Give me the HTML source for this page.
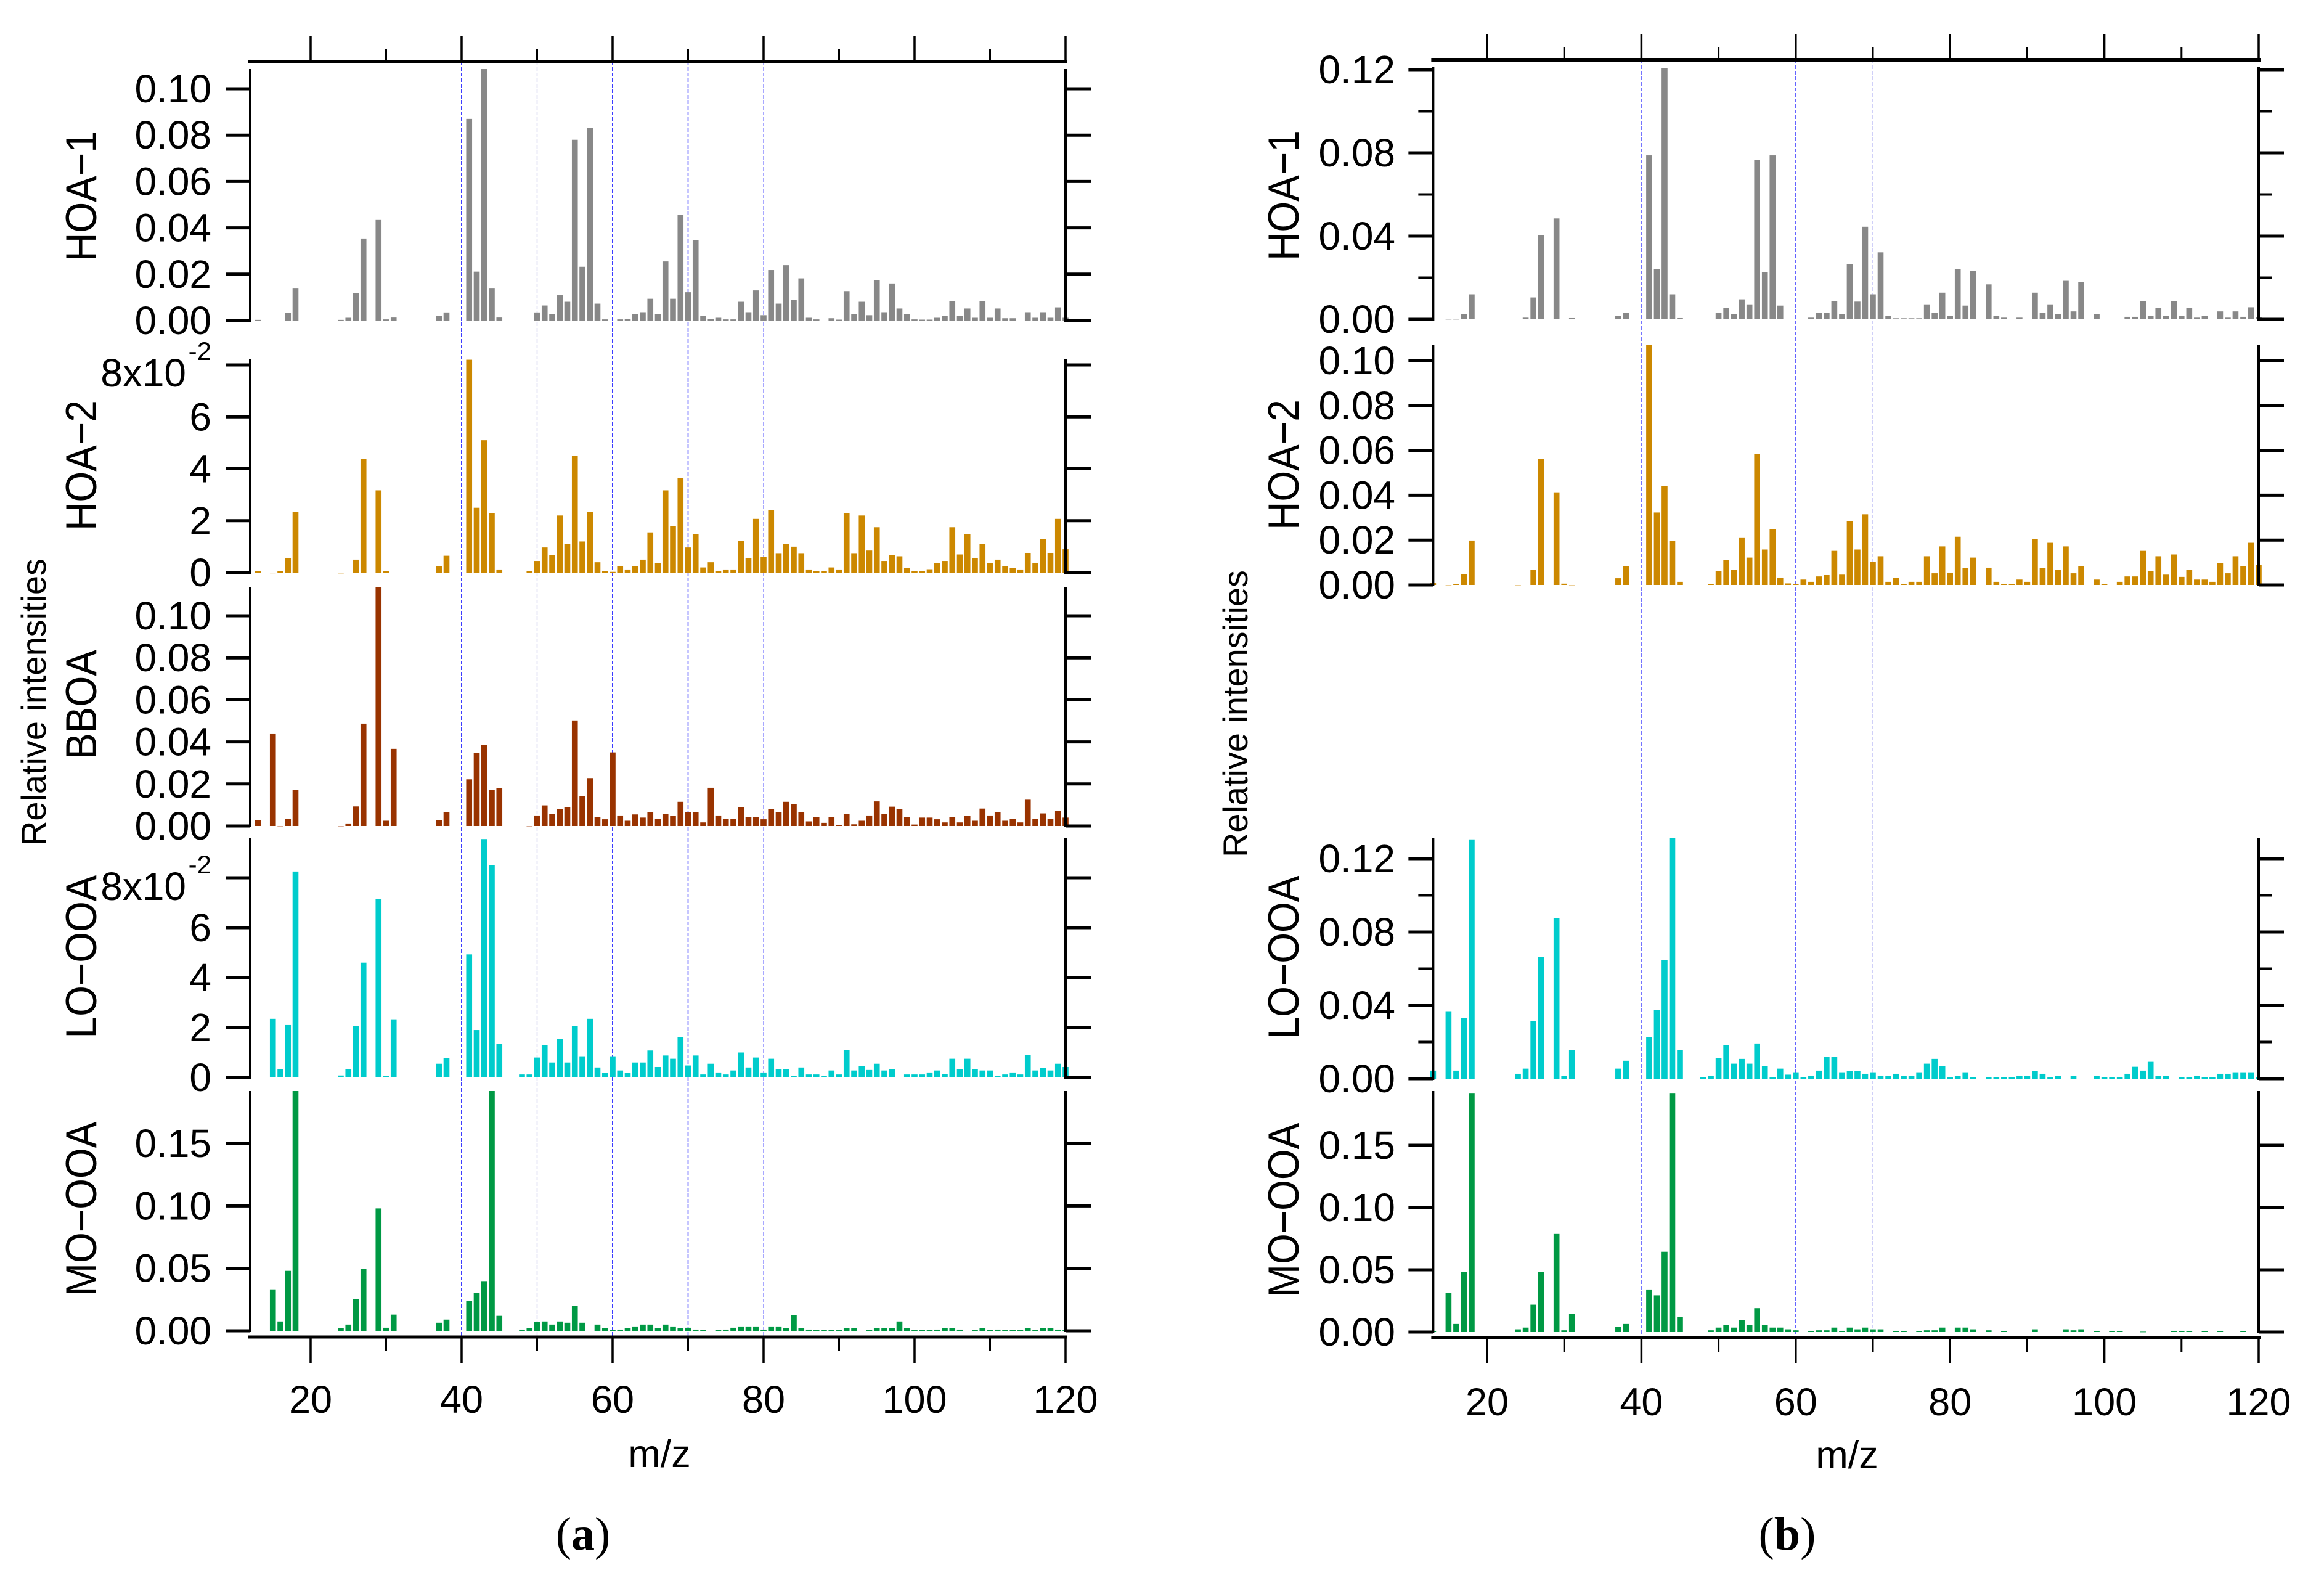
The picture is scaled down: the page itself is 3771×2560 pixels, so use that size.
<!DOCTYPE html>
<html lang="en">
<head>
<meta charset="utf-8">
<title>Mass spectra of PMF factors</title>
<style>
html,body{margin:0;padding:0;background:#fff;}
svg{display:block;font-family:"Liberation Sans",Arial,sans-serif;}
</style>
</head>
<body>
<svg id="chart" xmlns="http://www.w3.org/2000/svg" width="3771" height="2560" viewBox="0 0 3771 2560">
  <rect x="0" y="0" width="3771" height="2560" fill="#fff"/>
  <g id="plots"></g>
  <g fill="#000">
    <text transform="translate(74,1139) rotate(-90)" font-size="56" text-anchor="middle" textLength="466" lengthAdjust="spacingAndGlyphs">Relative intensities</text>
    <text transform="translate(2024,1158) rotate(-90)" font-size="56" text-anchor="middle" textLength="466" lengthAdjust="spacingAndGlyphs">Relative intensities</text>

    <text transform="translate(156,318) rotate(-90) scale(1,1.1)" font-size="64" text-anchor="middle">HOA−1</text>
    <text transform="translate(156,755) rotate(-90) scale(1,1.1)" font-size="64" text-anchor="middle">HOA−2</text>
    <text transform="translate(156,1143) rotate(-90) scale(1,1.1)" font-size="64" text-anchor="middle">BBOA</text>
    <text transform="translate(156,1552) rotate(-90) scale(1,1.1)" font-size="64" text-anchor="middle">LO−OOA</text>
    <text transform="translate(156,1961) rotate(-90) scale(1,1.1)" font-size="64" text-anchor="middle">MO−OOA</text>

    <text transform="translate(2107,317) rotate(-90) scale(1,1.1)" font-size="64" text-anchor="middle">HOA−1</text>
    <text transform="translate(2107,754) rotate(-90) scale(1,1.1)" font-size="64" text-anchor="middle">HOA−2</text>
    <text transform="translate(2107,1553) rotate(-90) scale(1,1.1)" font-size="64" text-anchor="middle">LO−OOA</text>
    <text transform="translate(2107,1963) rotate(-90) scale(1,1.1)" font-size="64" text-anchor="middle">MO−OOA</text>

    <text x="302" y="627" font-size="64" text-anchor="end">8x10</text>
    <text x="343" y="584" font-size="42" text-anchor="end">-2</text>
    <text x="302" y="1460" font-size="64" text-anchor="end">8x10</text>
    <text x="343" y="1417" font-size="42" text-anchor="end">-2</text>

    <text x="1070" y="2380" font-size="63" text-anchor="middle">m/z</text>
    <text x="2997" y="2382" font-size="63" text-anchor="middle">m/z</text>

    <text x="946" y="2514" font-size="76" text-anchor="middle" style="font-family:'Liberation Serif',serif">(<tspan font-weight="bold">a</tspan>)</text>
    <text x="2900" y="2514" font-size="76" text-anchor="middle" style="font-family:'Liberation Serif',serif">(<tspan font-weight="bold">b</tspan>)</text>
  </g>
</svg>
<script>
// m/z of the first value in every series; each series lists m/z 13..120
const firstMz = 13;

const hoa1A = [.0003,0,0,0,.0033,.0138,0,
0,0,0,0,.0003,.0012,.0117,.0354,0,.0434,
.0005,.0013,0,0,0,0,0,.002,.0035,0,
0,.087,.0211,.1085,.0138,.0013,0,0,0,0,
.0035,.0065,.0028,.0109,.0081,.078,.0232,.0832,.0073,.0005,
0,.0005,.0006,.0029,.0036,.0094,.0029,.0255,.0094,.0455,
.0122,.0346,.002,.0008,.0012,.0005,.0005,.0081,.0036,.013,
.0023,.0218,.0073,.0239,.0088,.0182,.0012,.0005,0,.001,
.0004,.0127,.0029,.0081,.0023,.0174,.0036,.016,.0052,.0029,
.0005,.0004,.0004,.0012,.002,.0085,.002,.0052,.0012,.0085,
.0012,.0052,.001,.001,0,.0036,.0012,.0036,.0012,.0057,.0012];

const hoa2A = [.05,0,-.03,.05,.57,2.35,0,
0,0,0,0,-.04,0,.5,4.38,0,3.17,
.05,0,0,0,0,0,0,.25,.65,0,
0,8.2,2.5,5.1,2.3,.12,0,0,0,.05,
.45,.97,.68,2.2,1.1,4.5,1.2,2.33,.4,.05,
.03,.25,.12,.26,.5,1.55,.38,3.17,1.8,3.65,
.97,1.48,.2,.4,.06,.12,.12,1.23,.57,2.07,
.6,2.4,.75,1.1,1.0,.75,.12,.05,.05,.2,
.12,2.28,.75,2.2,.85,1.75,.45,.68,.63,.18,
.06,.05,.13,.38,.45,1.75,.7,1.48,.57,1.1,
.38,.5,.25,.18,.12,.76,.38,1.3,.76,2.07,.9];

const bboaA = [.0028,0,.044,-.0003,.0033,.0173,0,
0,0,0,0,-.0002,.0012,.0093,.0487,0,.114,
.0025,.0367,0,0,0,0,0,.0028,.0065,0,
0,.0222,.0347,.0386,.0173,.018,0,0,0,-.0005,
.005,.0098,.0058,.0082,.0088,.0502,.0142,.0228,.0042,.0032,
.035,.005,.0025,.0055,.004,.0065,.0035,.0057,.0047,.0115,
.0065,.0065,.0017,.0182,.005,.0033,.0033,.0088,.0042,.0042,
.0032,.008,.0065,.0115,.0105,.0065,.0022,.0042,.0015,.0042,
.0005,.0058,.0008,.0025,.005,.0117,.0057,.0092,.008,.0042,
.0007,.004,.004,.0032,.0017,.0042,.0017,.0048,.0025,.0083,
.005,.0065,.0025,.0033,.0017,.0125,.0033,.006,.0033,.0072,.004];

const looaA = [0,0,2.35,.33,2.1,8.25,0,
0,0,0,0,.08,.33,2.05,4.6,0,7.15,
.07,2.33,0,0,0,0,0,.55,.78,0,
0,4.93,1.9,9.55,8.5,1.35,0,0,.12,.12,
.8,1.3,.6,1.55,.6,2.05,.85,2.35,.4,.18,
.85,.28,.18,.6,.6,1.08,.42,.88,.75,1.62,
.48,.88,.12,.55,.2,.12,.28,1.0,.4,.8,
.2,.75,.33,.33,.07,.4,.12,.12,.07,.28,
.12,1.1,.28,.45,.3,.55,.28,.33,0,.12,
.12,.12,.2,.28,.14,.75,.33,.75,.33,.28,
.28,.07,.12,.2,.12,.9,.28,.38,.28,.55,.42];

const mooaA = [0,0,.0332,.0075,.048,.192,0,
0,0,0,0,.002,.005,.0254,.0495,0,.098,
.0025,.013,0,0,0,0,0,.0065,.009,0,
0,.024,.0305,.0398,.192,.012,0,0,.001,.002,
.007,.0075,.005,.0075,.0065,.02,.0065,0,.005,.002,
.0005,.001,.002,.0035,.005,.005,.002,.005,.0035,.002,
.0025,.001,.0005,0,.0005,.001,.0025,.0035,.0035,.0035,
.001,.0035,.0035,.002,.0125,.002,.001,.0005,.0005,.0005,
.0005,.002,.002,0,.0005,.002,.002,.002,.0075,.002,
.0005,.0005,.0005,.001,.002,.002,.001,0,.0005,.002,
.0005,.001,.0005,.0005,.0005,.002,.0005,.002,.002,.001,.0005];

const hoa1B = [.0003,0,.0002,.0002,.0025,.012,0,
0,0,0,0,0,.0008,.0105,.0405,0,.0485,
0,.0006,0,0,0,0,0,.0015,.0032,0,
0,.0788,.0242,.1208,.012,.0006,0,0,0,0,
.0032,.0055,.0025,.0096,.0072,.0765,.0227,.0788,.0066,0,
0,0,.0008,.0032,.0032,.0088,.0025,.0265,.0085,.0445,
.012,.0322,.0015,.0005,.0005,.0005,.0005,.0072,.0032,.0128,
.0015,.0242,.0066,.0232,0,.0168,.0015,.0008,0,.0008,
0,.0128,.0032,.0072,.0025,.0185,.0038,.0178,0,.0025,
0,0,0,.0012,.0012,.0088,.0015,.0055,.0015,.0088,
.0015,.0055,.0008,.0015,0,.0038,.0008,.0038,.0012,.0058,.001];

const hoa2B = [.0008,0,-.0004,.0005,.0048,.0198,0,
0,0,0,0,-.0003,0,.0068,.0563,0,.0413,
.0006,-.0003,0,0,0,0,0,.003,.0085,0,
0,.107,.0323,.0442,.0197,.0014,0,0,0,.0003,
.0063,.0112,.0068,.0212,.0122,.0585,.0158,.0248,.0033,.0007,
.0005,.0024,.0014,.0038,.0044,.0152,.0046,.0285,.0158,.0315,
.0102,.0128,.0014,.0032,.0005,.0014,.0014,.0128,.0052,.0172,
.0055,.0215,.0075,.0122,0,.0077,.0014,.0005,.0005,.0024,
.0014,.0205,.0075,.0188,.0068,.0172,.0052,.0084,0,.0024,
.0005,0,.0014,.0038,.0038,.0152,.0062,.0128,.0046,.0136,
.0036,.0068,.0024,.0024,.0014,.0098,.0052,.0128,.0084,.0188,.0088];

const looaB = [.0044,0,.0368,.0044,.033,.1305,0,
0,0,0,0,.0027,.0055,.0315,.0663,0,.0875,
.0014,.0155,0,0,0,0,0,.0055,.0098,0,
0,.0228,.0375,.0648,.1315,.0155,0,0,.0008,.0014,
.0112,.0182,.0082,.0108,.0082,.0192,.0068,.001,.0055,.0022,
.0035,.0008,.0014,.0044,.0118,.0118,.0035,.0041,.0041,.0027,
.0035,.0014,.0014,.0027,.0014,.0014,.0035,.0082,.0108,.0068,
.0008,.0014,.0035,.0008,0,.0008,.0008,.0008,.0008,.0014,
.0014,.0041,.0027,.0008,.0014,0,.0014,0,0,.0014,
.0008,.0008,.0008,.0027,.0065,.0044,.0092,.0014,.0014,0,
.0008,.0008,.0014,.0008,.0008,.0027,.0027,.0035,.0035,.0035,.0008];

const mooaB = [.0005,0,.0312,.0065,.0482,.192,0,
0,0,0,0,.0022,.0036,.022,.0482,0,.0788,
.0014,.0148,0,0,0,0,0,.004,.0065,0,
0,.0342,.0295,.0645,.192,.012,0,0,0,.0014,
.0036,.0055,.0036,.0096,.0055,.0192,.0055,.0036,.0036,.0022,
.0014,0,.0008,.0014,.0014,.0036,.0008,.0036,.0022,.0036,
.0022,.0022,0,.0008,.0008,0,.0008,.0014,.0014,.0036,
0,.0036,.0036,.0022,0,.0014,0,.0008,0,0,
0,.0022,0,0,0,.0022,.0014,.0022,0,.0008,
0,.0005,.0005,0,0,.0003,0,0,0,.0008,
.0008,.0008,0,.0005,0,.0008,0,0,.0005,0,0];

// Tick values and labels
const xMajorTicks = [20,40,60,80,100,120];
const xMinorTicks = [30,50,70,90,110];
const xTickLabels = ['20','40','60','80','100','120'];

const ticks002 = [0,.02,.04,.06,.08,.10];
const labels002 = ['0.00','0.02','0.04','0.06','0.08','0.10'];
const ticksUnit = [0,2,4,6,8];
const labelsUnit = ['0','2','4','6',''];
const ticks005 = [0,.05,.10,.15];
const labels005 = ['0.00','0.05','0.10','0.15'];
const ticks004 = [0,.04,.08,.12];
const labels004 = ['0.00','0.04','0.08','0.12'];
const minorTicks002 = [.02,.06,.10];

const colGray = '#888888', colOrange = '#cc8800', colBrown = '#993300', colCyan = '#00cccc', colGreen = '#009944';

const NS = 'http://www.w3.org/2000/svg';
const root = document.getElementById('plots');

function line(x1,y1,x2,y2,stroke,width,dash){
  const el = document.createElementNS(NS,'line');
  el.setAttribute('x1',x1);
  el.setAttribute('y1',y1);
  el.setAttribute('x2',x2);
  el.setAttribute('y2',y2);
  el.setAttribute('stroke',stroke);
  el.setAttribute('stroke-width',width);
  if(dash) el.setAttribute('stroke-dasharray',dash);
  return el;
}

function label(x,y,str,anchor,size){
  const el = document.createElementNS(NS,'text');
  el.setAttribute('x',x);
  el.setAttribute('y',y);
  el.setAttribute('font-size',size);
  el.setAttribute('text-anchor',anchor);
  el.setAttribute('fill','#000');
  el.textContent = str;
  return el;
}

function drawFigure(fig){
  const xs = mz => fig.x20 + (mz-20)*fig.xPerMz;
  const left = xs(fig.mzMin), right = xs(120);

  // Guide lines behind everything
  fig.guides.forEach(g => {
    const el = line(xs(g.mz),fig.topAxisY,xs(g.mz),fig.bottomAxisY,g.color,2,'6 3');
    
    
    root.appendChild(el);
  });

  // Top and bottom axes
  const topAxis = line(left-3,fig.topAxisY,right+3,fig.topAxisY,'#000',6);
  
  
  root.appendChild(topAxis);
  const bottomAxis = line(left-3,fig.bottomAxisY,right+3,fig.bottomAxisY,'#000',5);
  
  
  root.appendChild(bottomAxis);

  xMajorTicks.forEach((t,i) => {
    const tickTop = line(xs(t),fig.topAxisY,xs(t),fig.topAxisY-42,'#000',3.5);
    
    
    root.appendChild(tickTop);
    const tickBottom = line(xs(t),fig.bottomAxisY,xs(t),fig.bottomAxisY+42,'#000',3.5);
    
    
    root.appendChild(tickBottom);
    const txt = label(xs(t),fig.xLabelY,xTickLabels[i],'middle',63);
    
    
    root.appendChild(txt);
  });
  xMinorTicks.forEach(t => {
    const tickTop = line(xs(t),fig.topAxisY,xs(t),fig.topAxisY-21,'#000',3);
    
    
    root.appendChild(tickTop);
    const tickBottom = line(xs(t),fig.bottomAxisY,xs(t),fig.bottomAxisY+23,'#000',3);
    
    
    root.appendChild(tickBottom);
  });

  fig.panels.forEach(p => {
    const ys = v => p.zeroY - v*(p.zeroY-p.refY)/p.refValue;
    const g = document.createElementNS(NS,'g');
    
    
    root.appendChild(g);

    p.values.forEach((v,i) => {
      if(v===0) return;
      const mz = firstMz+i;
      const yTop = Math.max(ys(v),p.topY);
      const rect = document.createElementNS(NS,'rect');
      rect.setAttribute('x',xs(mz)-fig.barW/2);
      rect.setAttribute('width',fig.barW);
      rect.setAttribute('y',Math.min(yTop,p.zeroY));
      rect.setAttribute('height',Math.max(Math.abs(p.zeroY-yTop),1));
      rect.setAttribute('fill',p.color);
      if(v<0) rect.setAttribute('opacity','0.4');
      
      
      g.appendChild(rect);
    });

    const axL = line(left,p.topY,left,p.zeroY+2,'#000',4);
    
    
    g.appendChild(axL);
    const axR = line(right,p.topY,right,p.zeroY+2,'#000',4);
    
    
    g.appendChild(axR);

    p.ticks.forEach((t,i) => {
      const tl = line(left-40,ys(t),left,ys(t),'#000',5);
      
      
      g.appendChild(tl);
      const tr = line(right,ys(t),right+41,ys(t),'#000',5);
      
      
      g.appendChild(tr);
      if(p.labels[i]){
        const txt = label(fig.yLabelX,ys(t)+22,p.labels[i],'end',64);
        
        
        g.appendChild(txt);
      }
    });
    (p.minor||[]).forEach(t => {
      const tl = line(left-24,ys(t),left,ys(t),'#000',4);
      
      
      g.appendChild(tl);
      const tr = line(right,ys(t),right+22,ys(t),'#000',4);
      
      
      g.appendChild(tr);
    });
  });
}

drawFigure({
  id:'a', x20:504, xPerMz:12.25, mzMin:12, barW:9.6, topAxisY:100, bottomAxisY:2169, xLabelY:2292, yLabelX:343,
  guides:[{mz:40,color:'#3c3cff'},{mz:50,color:'#e4e4f4'},{mz:60,color:'#3c3cff'},{mz:70,color:'#8c8cff'},{mz:80,color:'#a8a8ff'}],
  panels:[
    {id:'hoa1',color:colGray,values:hoa1A,ticks:ticks002,labels:labels002,topY:112,zeroY:520,refValue:.10,refY:144},
    {id:'hoa2',color:colOrange,values:hoa2A,ticks:ticksUnit,labels:labelsUnit,topY:583,zeroY:929,refValue:8,refY:592},
    {id:'bboa',color:colBrown,values:bboaA,ticks:ticks002,labels:labels002,topY:952,zeroY:1340,refValue:.10,refY:999},
    {id:'looa',color:colCyan,values:looaA,ticks:ticksUnit,labels:labelsUnit,topY:1360,zeroY:1748,refValue:8,refY:1424},
    {id:'mooa',color:colGreen,values:mooaA,ticks:ticks005,labels:labels005,topY:1770,zeroY:2159,refValue:.15,refY:1855}
  ]
});

drawFigure({
  id:'b', x20:2413, xPerMz:12.52, mzMin:13, barW:9.6, topAxisY:97, bottomAxisY:2170, xLabelY:2296, yLabelX:2264,
  guides:[{mz:40,color:'#7474ff'},{mz:60,color:'#6464ff'},{mz:70,color:'#d0d0f8'}],
  panels:[
    {id:'hoa1',color:colGray,values:hoa1B,ticks:ticks004,labels:labels004,minor:minorTicks002,topY:108,zeroY:518,refValue:.12,refY:113},
    {id:'hoa2',color:colOrange,values:hoa2B,ticks:ticks002,labels:labels002,topY:560,zeroY:949,refValue:.10,refY:585},
    {id:'looa',color:colCyan,values:looaB,ticks:ticks004,labels:labels004,minor:minorTicks002,topY:1360,zeroY:1750,refValue:.12,refY:1393},
    {id:'mooa',color:colGreen,values:mooaB,ticks:ticks005,labels:labels005,topY:1770,zeroY:2161,refValue:.15,refY:1858}
  ]
});
</script>
</body>
</html>
